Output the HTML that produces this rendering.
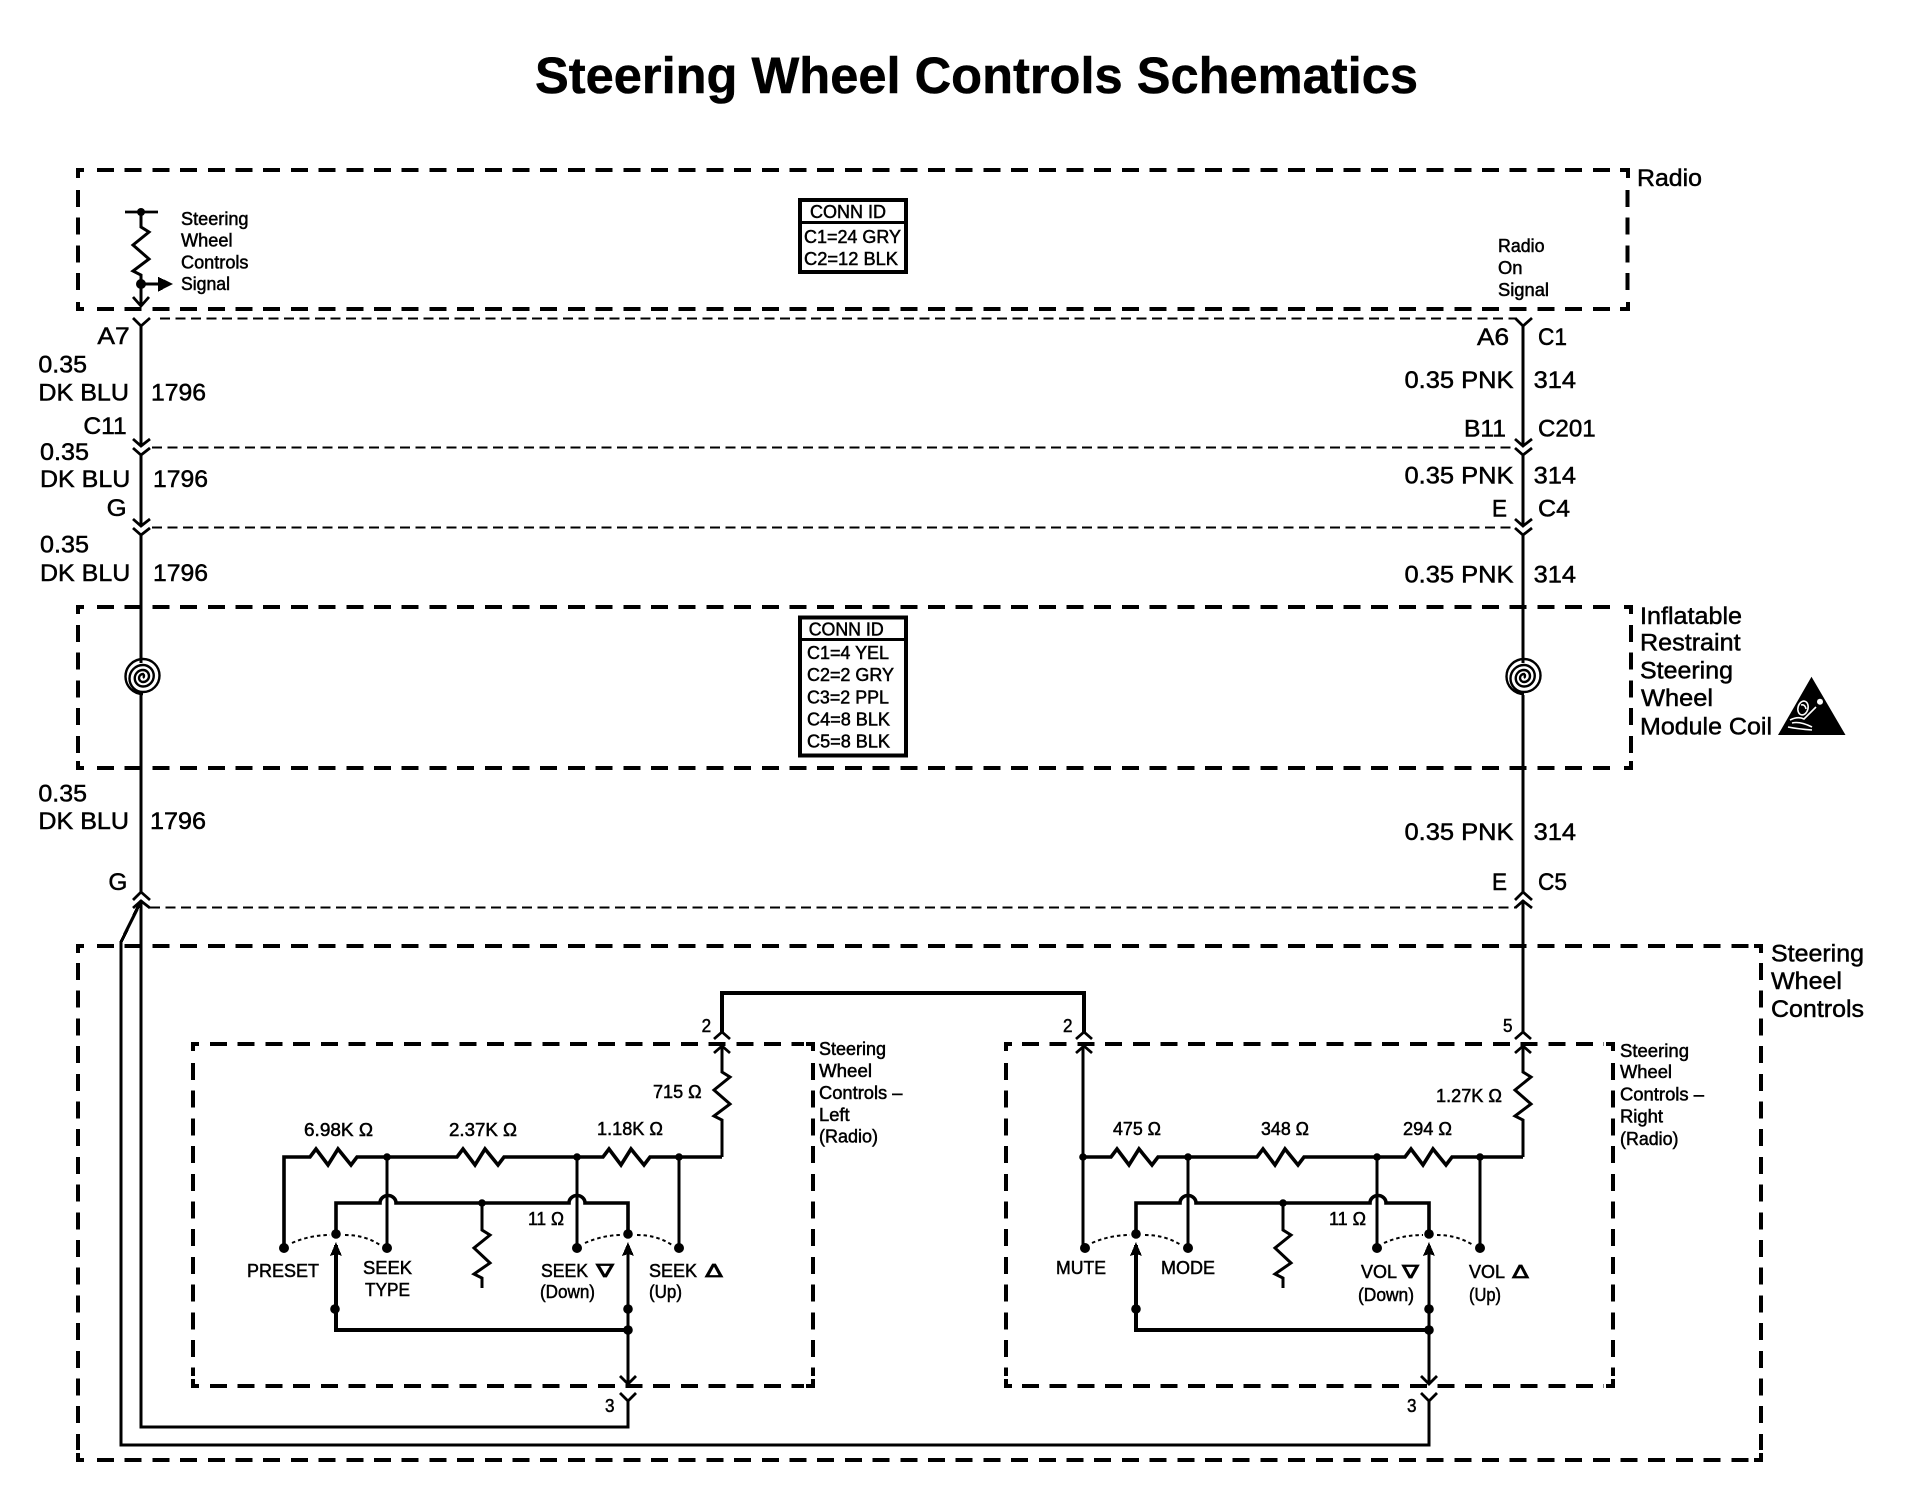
<!DOCTYPE html>
<html lang="en"><head><meta charset="utf-8"><title>Steering Wheel Controls Schematics</title>
<style>
html,body{margin:0;padding:0;background:#fff}
svg{display:block}
text{font-family:"Liberation Sans",Arial,sans-serif;fill:#000;stroke:#000;stroke-width:.5}
.b{font-size:24.5px}
.s{font-size:18px}
.c{font-size:18px}
.t{font-size:51px;font-weight:bold}
.d{font-family:"DejaVu Sans",sans-serif;font-size:18px;stroke-width:.7}
path,rect{shape-rendering:crispEdges}
.w{fill:none;stroke:#000;stroke-width:3.200}
.m{fill:none;stroke:#000;stroke-width:3.600}
.h{fill:none;stroke:#000;stroke-width:4.400;stroke-dasharray:17 10.700}
.v{fill:none;stroke:#000;stroke-width:4;stroke-dasharray:17 10.700}
.k{fill:none;stroke:#000;stroke-width:4}
.n{fill:none;stroke:#000;stroke-width:2.400;stroke-dasharray:10 5.500}
.o{fill:none;stroke:#000;stroke-width:2;stroke-dasharray:3.500 3;shape-rendering:auto}
.a{fill:none;stroke:#000;stroke-width:2.800;shape-rendering:auto}
.r{fill:none;stroke:#000;stroke-width:3;shape-rendering:auto}
</style></head><body>
<svg xmlns="http://www.w3.org/2000/svg" width="1910" height="1504" viewBox="0 0 1910 1504">
<rect width="1910" height="1504" fill="#fff"/>

<text class="t" x="535" y="93" textLength="883" lengthAdjust="spacingAndGlyphs">Steering Wheel Controls Schematics</text>

<!-- Radio box -->
<path class="k" d="M78 178V170H84M78 302V309H84M1620 170H1628V178M1620 309H1628V302"/>
<path class="h" d="M97 170H1616M97 309H1616"/>
<path class="v" d="M78 190V300M1627.500 190V300"/>
<!-- Inflatable box -->
<path class="k" d="M78 614V607H84M78 761V768H84M1624 607H1631V614M1624 768H1631V761"/>
<path class="h" d="M97 607H1620M97 768H1620"/>
<path class="v" d="M78 625V758M1631 625V758"/>
<!-- Steering wheel controls box -->
<path class="k" d="M78 953V946H84M78 1453V1460H84M1754 946H1761V953M1754 1460H1761V1453"/>
<path class="h" d="M97 946H1750M97 1460H1750"/>
<path class="v" d="M78 963V1450M1761 963V1450"/>
<!-- Left module box -->
<path class="k" d="M193 1051V1044H199M193 1379V1386H199M806 1044H813V1051M806 1386H813V1379"/>
<path class="h" d="M210 1044H804M210 1386H804"/>
<path class="v" d="M193 1063V1376M813 1063V1376"/>
<!-- Right module box -->
<path class="k" d="M1006 1051V1044H1012M1006 1379V1386H1012M1606 1044H1613V1051M1606 1386H1613V1379"/>
<path class="h" d="M1022 1044H1604M1022 1386H1604"/>
<path class="v" d="M1006 1063V1376M1613 1063V1376"/>

<!-- Connector dashed lines -->
<path class="n" d="M160 318.500H1515M152 447.500H1515M152 527.500H1515M150 907.500H1515"/>

<!-- Radio internal signal -->
<path class="a" d="M125 212H158"/>
<circle cx="141" cy="212" r="4"/>
<path class="r" d="M141 212V227l8 5 -16 13 16 14 -16 12 8 4V306"/>
<circle cx="141" cy="284" r="5"/>
<path class="k" style="stroke-width:3.400" d="M141 284H160"/>
<path d="M158 276.700L173 284 158 291.700Z"/>
<path class="a" d="M133 297L141 306 149 297"/>

<!-- Left main wire -->
<path class="w" d="M141 325V445M141 454V526M141 534V663M141 695V892M141 900V1427H628V1400"/>
<path class="a" d="M133 318L141 326 150 318M133 439L141 446 150 439M133 448L141 455 150 448M133 519L141 526 150 519M133 528L141 535 150 528M133 900L141 892 150 900M133 908L141 901 150 908"/>
<!-- Outer wire -->
<path class="w" d="M1429 1400V1445H121V942L141 901"/>
<!-- Right main wire -->
<path class="w" d="M1523 325V445M1523 454V526M1523 534V663M1523 695V892M1523 900V1032"/>
<path class="a" d="M1515 318L1523 326 1532 318M1515 439L1523 446 1532 439M1515 448L1523 455 1532 448M1515 519L1523 526 1532 519M1515 528L1523 535 1532 528M1515 900L1523 892 1532 900M1515 908L1523 901 1532 908"/>

<!-- Coils -->
<path class="r" style="stroke-width:2.400" d="M143 694A17.500 17.500 0 0 1 143 659A16.500 16.500 0 0 1 143 692A13.500 13.500 0 0 1 143 665A10.750 10.750 0 0 1 143 686.500A8.250 8.250 0 0 1 143 670A6 6 0 0 1 143 682A4 4 0 0 1 143 674A2.500 2.500 0 0 1 143 678"/>
<path class="r" style="stroke-width:2.400" d="M1524 694A17.500 17.500 0 0 1 1524 659A16.500 16.500 0 0 1 1524 692A13.500 13.500 0 0 1 1524 665A10.750 10.750 0 0 1 1524 686.500A8.250 8.250 0 0 1 1524 670A6 6 0 0 1 1524 682A4 4 0 0 1 1524 674A2.500 2.500 0 0 1 1524 678"/>

<!-- Bus between modules -->
<path class="m" d="M722 1032V993H1084V1032"/>
<path class="a" d="M714 1039L722 1032 730 1039M714 1053L722 1046 730 1053M1076 1039L1084 1032 1092 1039M1076 1053L1084 1046 1092 1053M1515 1039L1523 1032 1531 1039M1515 1053L1523 1046 1531 1053"/>

<!-- LEFT MODULE -->
<path class="r" d="M722 1046V1072l8 5 -16 13 16 14 -16 12 8 4V1157"/>
<path class="m" style="shape-rendering:auto" d="M284 1248V1157H310l6 -8 12 16 10 -16 13 16 6 -8H457l6 -8 12 16 10 -16 13 16 6 -8H603l6 -8 12 16 10 -16 13 16 6 -8H722"/>
<path class="w" d="M387 1157V1248M577 1157V1248M679 1157V1248"/>
<path class="m" style="shape-rendering:auto" d="M336 1234V1203H380A8 7.500 0 0 1 396 1203H569A8 7.500 0 0 1 585 1203H628V1234"/>
<path class="m" d="M336 1245V1330H628"/>
<path class="w" d="M628 1245V1383"/>
<path class="r" d="M482 1203V1230l8 5 -16 13 16 15 -16 11 8 4V1288"/>
<path class="a" d="M620 1376L628 1384 636 1376M620 1393L628 1401 636 1393"/>
<path d="M336 1242L342 1256 336 1254 330 1256ZM628 1242L634 1256 628 1254 622 1256Z"/>
<path class="o" d="M292 1243Q310 1235 330 1235M345 1235Q365 1235 380 1245M585 1243Q603 1235 622 1235M637 1235Q657 1235 672 1245"/>
<g>
<circle cx="387" cy="1157" r="3.800"/><circle cx="577" cy="1157" r="3.800"/><circle cx="679" cy="1157" r="3.800"/>
<circle cx="482" cy="1203" r="3.800"/>
<circle cx="284" cy="1248" r="5"/><circle cx="387" cy="1248" r="5"/><circle cx="577" cy="1248" r="5"/><circle cx="679" cy="1248" r="5"/>
<circle cx="336" cy="1234" r="4.800"/><circle cx="628" cy="1234" r="4.800"/>
<circle cx="335" cy="1309" r="4.800"/><circle cx="628" cy="1309" r="4.800"/><circle cx="628" cy="1330" r="4.800"/>
</g>

<!-- RIGHT MODULE -->
<path class="w" d="M1083 1046V1248"/>
<path class="r" d="M1523 1046V1072l8 5 -16 13 16 14 -16 12 8 4V1157"/>
<path class="m" style="shape-rendering:auto" d="M1083 1157H1111l6 -8 12 16 10 -16 13 16 6 -8H1257l6 -8 12 16 10 -16 13 16 6 -8H1405l6 -8 12 16 10 -16 13 16 6 -8H1523"/>
<path class="w" d="M1188 1157V1248M1377 1157V1248M1480 1157V1248"/>
<path class="m" style="shape-rendering:auto" d="M1136 1234V1203H1180A8 7.500 0 0 1 1196 1203H1370A8 7.500 0 0 1 1386 1203H1429V1234"/>
<path class="m" d="M1136 1245V1330H1429"/>
<path class="w" d="M1429 1245V1383"/>
<path class="r" d="M1283 1203V1230l8 5 -16 13 16 15 -16 11 8 4V1288"/>
<path class="a" d="M1421 1376L1429 1384 1437 1376M1421 1393L1429 1401 1437 1393"/>
<path d="M1136 1242L1142 1256 1136 1254 1130 1256ZM1429 1242L1435 1256 1429 1254 1423 1256Z"/>
<path class="o" d="M1092 1243Q1110 1235 1130 1235M1145 1235Q1165 1235 1181 1245M1384 1243Q1402 1235 1423 1235M1437 1235Q1457 1235 1473 1245"/>
<g>
<circle cx="1083" cy="1157" r="3.800"/><circle cx="1188" cy="1157" r="3.800"/><circle cx="1377" cy="1157" r="3.800"/><circle cx="1480" cy="1157" r="3.800"/>
<circle cx="1283" cy="1203" r="3.800"/>
<circle cx="1085" cy="1248" r="5"/><circle cx="1188" cy="1248" r="5"/><circle cx="1377" cy="1248" r="5"/><circle cx="1480" cy="1248" r="5"/>
<circle cx="1136" cy="1234" r="4.800"/><circle cx="1429" cy="1234" r="4.800"/>
<circle cx="1136" cy="1309" r="4.800"/><circle cx="1429" cy="1309" r="4.800"/><circle cx="1429" cy="1330" r="4.800"/>
</g>

<!-- CONN ID boxes -->
<rect x="800" y="200" width="106" height="72" fill="none" stroke="#000" stroke-width="4"/>
<path d="M800 222.700H906" stroke="#000" stroke-width="3"/>
<text class="c" x="810" y="218" textLength="76" lengthAdjust="spacingAndGlyphs">CONN ID</text>
<text class="s" x="804" y="243" textLength="97" lengthAdjust="spacingAndGlyphs">C1=24 GRY</text>
<text class="s" x="804" y="265" textLength="94" lengthAdjust="spacingAndGlyphs">C2=12 BLK</text>

<rect x="800" y="617.500" width="106" height="138" fill="none" stroke="#000" stroke-width="4"/>
<path d="M800 639.500H906" stroke="#000" stroke-width="3"/>
<text class="c" x="808.700" y="635.700" textLength="75" lengthAdjust="spacingAndGlyphs">CONN ID</text>
<text class="s" x="807" y="659" textLength="82" lengthAdjust="spacingAndGlyphs">C1=4 YEL</text>
<text class="s" x="807" y="681" textLength="87" lengthAdjust="spacingAndGlyphs">C2=2 GRY</text>
<text class="s" x="807" y="703.300" textLength="82" lengthAdjust="spacingAndGlyphs">C3=2 PPL</text>
<text class="s" x="807" y="725.300" textLength="83" lengthAdjust="spacingAndGlyphs">C4=8 BLK</text>
<text class="s" x="807" y="747.300" textLength="83" lengthAdjust="spacingAndGlyphs">C5=8 BLK</text>

<!-- Radio labels -->
<text class="s" x="181" y="225" textLength="67.500" lengthAdjust="spacingAndGlyphs">Steering</text>
<text class="s" x="181" y="246.700" textLength="51.500" lengthAdjust="spacingAndGlyphs">Wheel</text>
<text class="s" x="181" y="268.700" textLength="67.500" lengthAdjust="spacingAndGlyphs">Controls</text>
<text class="s" x="181" y="290" textLength="49" lengthAdjust="spacingAndGlyphs">Signal</text>
<text class="b" x="1637" y="186" textLength="65" lengthAdjust="spacingAndGlyphs">Radio</text>
<text class="s" x="1498" y="252" textLength="46.500" lengthAdjust="spacingAndGlyphs">Radio</text>
<text class="s" x="1498" y="274" textLength="24.500" lengthAdjust="spacingAndGlyphs">On</text>
<text class="s" x="1498" y="296" textLength="51" lengthAdjust="spacingAndGlyphs">Signal</text>

<!-- Left wire labels -->
<text class="b" x="97.400" y="344" textLength="32.300" lengthAdjust="spacingAndGlyphs">A7</text>
<text class="b" x="38.400" y="372.700" textLength="48.600" lengthAdjust="spacingAndGlyphs">0.35</text>
<text class="b" x="38.400" y="400.700" textLength="90.600" lengthAdjust="spacingAndGlyphs">DK BLU</text>
<text class="b" x="151" y="400.700" textLength="55" lengthAdjust="spacingAndGlyphs">1796</text>
<text class="b" x="83.400" y="434" textLength="43.300" lengthAdjust="spacingAndGlyphs">C11</text>
<text class="b" x="40" y="460" textLength="49" lengthAdjust="spacingAndGlyphs">0.35</text>
<text class="b" x="40" y="487" textLength="90.300" lengthAdjust="spacingAndGlyphs">DK BLU</text>
<text class="b" x="153" y="487" textLength="55" lengthAdjust="spacingAndGlyphs">1796</text>
<text class="b" x="106.600" y="516" textLength="20" lengthAdjust="spacingAndGlyphs">G</text>
<text class="b" x="40" y="552.700" textLength="49" lengthAdjust="spacingAndGlyphs">0.35</text>
<text class="b" x="40" y="581" textLength="90.300" lengthAdjust="spacingAndGlyphs">DK BLU</text>
<text class="b" x="153" y="581" textLength="55" lengthAdjust="spacingAndGlyphs">1796</text>
<text class="b" x="38.400" y="801.700" textLength="48.600" lengthAdjust="spacingAndGlyphs">0.35</text>
<text class="b" x="38.400" y="829" textLength="90.600" lengthAdjust="spacingAndGlyphs">DK BLU</text>
<text class="b" x="150" y="829" textLength="56" lengthAdjust="spacingAndGlyphs">1796</text>
<text class="b" x="108.400" y="890" textLength="19" lengthAdjust="spacingAndGlyphs">G</text>

<!-- Right wire labels -->
<text class="b" x="1477" y="345" textLength="32" lengthAdjust="spacingAndGlyphs">A6</text>
<text class="b" x="1538" y="345" textLength="29" lengthAdjust="spacingAndGlyphs">C1</text>
<text class="b" x="1404.500" y="388" textLength="109" lengthAdjust="spacingAndGlyphs">0.35 PNK</text>
<text class="b" x="1533.600" y="388" textLength="42.400" lengthAdjust="spacingAndGlyphs">314</text>
<text class="b" x="1464" y="436.700" textLength="42" lengthAdjust="spacingAndGlyphs">B11</text>
<text class="b" x="1538" y="436.700" textLength="57.700" lengthAdjust="spacingAndGlyphs">C201</text>
<text class="b" x="1404.500" y="483.300" textLength="109" lengthAdjust="spacingAndGlyphs">0.35 PNK</text>
<text class="b" x="1533.600" y="483.300" textLength="42.400" lengthAdjust="spacingAndGlyphs">314</text>
<text class="b" x="1492" y="516.700" textLength="15" lengthAdjust="spacingAndGlyphs">E</text>
<text class="b" x="1538" y="516.700" textLength="32" lengthAdjust="spacingAndGlyphs">C4</text>
<text class="b" x="1404.500" y="582.700" textLength="109" lengthAdjust="spacingAndGlyphs">0.35 PNK</text>
<text class="b" x="1533.600" y="582.700" textLength="42.400" lengthAdjust="spacingAndGlyphs">314</text>
<text class="b" x="1404.500" y="840" textLength="109" lengthAdjust="spacingAndGlyphs">0.35 PNK</text>
<text class="b" x="1533.600" y="840" textLength="42.400" lengthAdjust="spacingAndGlyphs">314</text>
<text class="b" x="1492" y="890" textLength="15" lengthAdjust="spacingAndGlyphs">E</text>
<text class="b" x="1538" y="890" textLength="29" lengthAdjust="spacingAndGlyphs">C5</text>

<!-- Inflatable labels -->
<text class="b" x="1640" y="624" textLength="102" lengthAdjust="spacingAndGlyphs">Inflatable</text>
<text class="b" x="1640" y="650.700" textLength="100.600" lengthAdjust="spacingAndGlyphs">Restraint</text>
<text class="b" x="1640" y="678.300" textLength="93" lengthAdjust="spacingAndGlyphs">Steering</text>
<text class="b" x="1641" y="706" textLength="72" lengthAdjust="spacingAndGlyphs">Wheel</text>
<text class="b" x="1640" y="734.300" textLength="132" lengthAdjust="spacingAndGlyphs">Module Coil</text>
<path style="shape-rendering:auto" d="M1811.500 676.700L1778 735H1845.500Z"/>
<g fill="none" stroke="#fff" stroke-width="1.600">
<ellipse cx="1803" cy="708" rx="5" ry="7" transform="rotate(15 1803 708)"/>
<path style="shape-rendering:auto" d="M1801 705q4 -1 5 4M1790 720q8 -4 14 -1l12 -12M1788 727q10 2 24 3M1792 723q8 -2 20 4"/>
</g>
<circle cx="1820" cy="701.700" r="3" fill="#fff"/>

<!-- Steering Wheel Controls -->
<text class="b" x="1771" y="961.700" textLength="93" lengthAdjust="spacingAndGlyphs">Steering</text>
<text class="b" x="1771" y="989" textLength="71" lengthAdjust="spacingAndGlyphs">Wheel</text>
<text class="b" x="1771" y="1017" textLength="93" lengthAdjust="spacingAndGlyphs">Controls</text>

<!-- Pin numbers -->
<text class="s" x="701.600" y="1032" textLength="9.500" lengthAdjust="spacingAndGlyphs">2</text>
<text class="s" x="1063" y="1032" textLength="9.500" lengthAdjust="spacingAndGlyphs">2</text>
<text class="s" x="1503" y="1032" textLength="9.500" lengthAdjust="spacingAndGlyphs">5</text>
<text class="s" x="605" y="1412" textLength="9.500" lengthAdjust="spacingAndGlyphs">3</text>
<text class="s" x="1407" y="1412" textLength="9.500" lengthAdjust="spacingAndGlyphs">3</text>

<!-- Left module labels -->
<text class="s" x="653" y="1098" textLength="48.600" lengthAdjust="spacingAndGlyphs">715 Ω</text>
<text class="s" x="819" y="1055" textLength="67" lengthAdjust="spacingAndGlyphs">Steering</text>
<text class="s" x="819" y="1077" textLength="53" lengthAdjust="spacingAndGlyphs">Wheel</text>
<text class="s" x="819" y="1099" textLength="83.500" lengthAdjust="spacingAndGlyphs">Controls –</text>
<text class="s" x="819" y="1121" textLength="30.600" lengthAdjust="spacingAndGlyphs">Left</text>
<text class="s" x="819" y="1142.700" textLength="59" lengthAdjust="spacingAndGlyphs">(Radio)</text>
<text class="s" x="304" y="1136" textLength="69" lengthAdjust="spacingAndGlyphs">6.98K Ω</text>
<text class="s" x="449" y="1136" textLength="68" lengthAdjust="spacingAndGlyphs">2.37K Ω</text>
<text class="s" x="597" y="1135" textLength="66" lengthAdjust="spacingAndGlyphs">1.18K Ω</text>
<text class="s" x="528" y="1225" textLength="36" lengthAdjust="spacingAndGlyphs">11 Ω</text>
<text class="s" x="247" y="1277" textLength="72" lengthAdjust="spacingAndGlyphs">PRESET</text>
<text class="s" x="363" y="1274" textLength="49" lengthAdjust="spacingAndGlyphs">SEEK</text>
<text class="s" x="365" y="1296" textLength="45" lengthAdjust="spacingAndGlyphs">TYPE</text>
<text class="s" x="541" y="1277" textLength="47" lengthAdjust="spacingAndGlyphs">SEEK</text>
<text class="d" x="596" y="1277" textLength="18" lengthAdjust="spacingAndGlyphs">∇</text>
<text class="s" x="540" y="1298" textLength="55" lengthAdjust="spacingAndGlyphs">(Down)</text>
<text class="s" x="649" y="1277" textLength="48" lengthAdjust="spacingAndGlyphs">SEEK</text>
<text class="d" x="705" y="1277" textLength="18" lengthAdjust="spacingAndGlyphs">Δ</text>
<text class="s" x="649" y="1298" textLength="33" lengthAdjust="spacingAndGlyphs">(Up)</text>

<!-- Right module labels -->
<text class="s" x="1436" y="1102" textLength="66" lengthAdjust="spacingAndGlyphs">1.27K Ω</text>
<text class="s" x="1620" y="1057" textLength="69" lengthAdjust="spacingAndGlyphs">Steering</text>
<text class="s" x="1620" y="1078" textLength="52" lengthAdjust="spacingAndGlyphs">Wheel</text>
<text class="s" x="1620" y="1100.700" textLength="84" lengthAdjust="spacingAndGlyphs">Controls –</text>
<text class="s" x="1620" y="1122.700" textLength="43" lengthAdjust="spacingAndGlyphs">Right</text>
<text class="s" x="1620" y="1145" textLength="58.500" lengthAdjust="spacingAndGlyphs">(Radio)</text>
<text class="s" x="1113" y="1135" textLength="48" lengthAdjust="spacingAndGlyphs">475 Ω</text>
<text class="s" x="1261" y="1135" textLength="48" lengthAdjust="spacingAndGlyphs">348 Ω</text>
<text class="s" x="1403" y="1135" textLength="49" lengthAdjust="spacingAndGlyphs">294 Ω</text>
<text class="s" x="1329" y="1225" textLength="37" lengthAdjust="spacingAndGlyphs">11 Ω</text>
<text class="s" x="1056" y="1274" textLength="50" lengthAdjust="spacingAndGlyphs">MUTE</text>
<text class="s" x="1161" y="1274" textLength="54" lengthAdjust="spacingAndGlyphs">MODE</text>
<text class="s" x="1361" y="1278" textLength="36" lengthAdjust="spacingAndGlyphs">VOL</text>
<text class="d" x="1402" y="1278" textLength="17" lengthAdjust="spacingAndGlyphs">∇</text>
<text class="s" x="1358" y="1301" textLength="56" lengthAdjust="spacingAndGlyphs">(Down)</text>
<text class="s" x="1469" y="1278" textLength="36" lengthAdjust="spacingAndGlyphs">VOL</text>
<text class="d" x="1512" y="1278" textLength="17" lengthAdjust="spacingAndGlyphs">Δ</text>
<text class="s" x="1469" y="1301" textLength="32" lengthAdjust="spacingAndGlyphs">(Up)</text>
</svg>
</body></html>
